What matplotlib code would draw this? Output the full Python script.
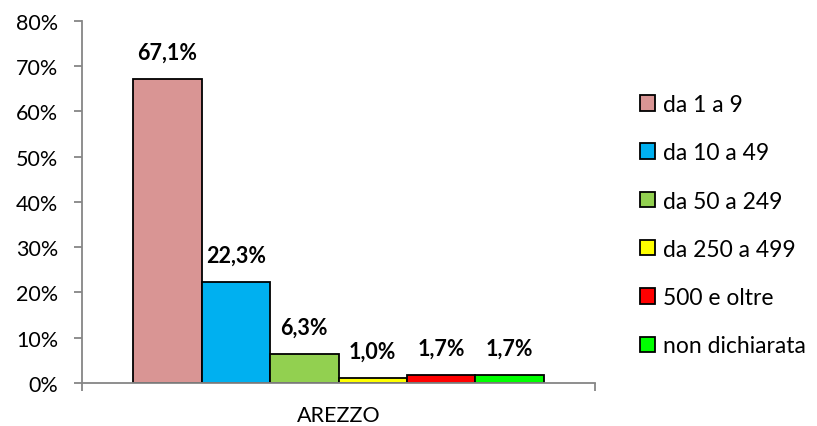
import numpy as np
import matplotlib.pyplot as plt
from matplotlib.patches import Patch

categoria = 'AREZZO'
classi = ['da 1 a 9', 'da 10 a 49', 'da 50 a 249', 'da 250 a 499',
          '500 e oltre', 'non dichiarata']
valori = [67.1, 22.3, 6.3, 1.0, 1.7, 1.7]
colori = ['#D99594', '#00B0F0', '#92D050', '#FFFF00', '#FF0000', '#00FF00']

plt.rcParams['font.family'] = ['Lato', 'DejaVu Sans']

fig = plt.figure(figsize=(8.17, 4.27), dpi=100)
ax = fig.add_axes([0.1004, 0.1007, 0.6279, 0.8478])

n = len(valori)
larg = 0.8 / n
xs = 0.1 + larg * (np.arange(n) + 0.5)
bars = ax.bar(xs, valori, width=larg, color=colori, edgecolor='black', linewidth=1.3)

for x, v in zip(xs, valori):
    ax.annotate('{:.1f}%'.format(v).replace('.', ','), (x, v), xytext=(0, 12),
                textcoords='offset points', ha='center', va='bottom',
                fontsize=15.5, fontweight='bold')

ax.set_xlim(0, 1)
ax.set_ylim(0, 80)
ax.set_yticks(np.arange(0, 81, 10))
ax.set_yticklabels(['{}%'.format(t) for t in range(0, 81, 10)], fontsize=15.5)
ax.set_xticks([0, 1])
ax.set_xticklabels(['', ''])
ax.set_xticks([0.5], minor=True)
ax.set_xticklabels([categoria], minor=True, fontsize=15.5)
ax.tick_params(axis='x', which='minor', length=0, pad=15.5)
ax.tick_params(axis='both', which='major', length=6, color='#868686', width=1.3)
ax.tick_params(axis='y', pad=11)

for s in ['top', 'right']:
    ax.spines[s].set_visible(False)
for s in ['left', 'bottom']:
    ax.spines[s].set_color('#868686')
    ax.spines[s].set_linewidth(1.3)

handles = [Patch(facecolor=c, edgecolor='black', linewidth=1.3) for c in colori]
fig.legend(handles, classi, loc='upper left', bbox_to_anchor=(0.772, 0.799),
           frameon=False, fontsize=16.5, handlelength=0.66, handleheight=0.66,
           handletextpad=0.33, labelspacing=1.19, borderaxespad=0)

fig.savefig('out.png', dpi=100)
